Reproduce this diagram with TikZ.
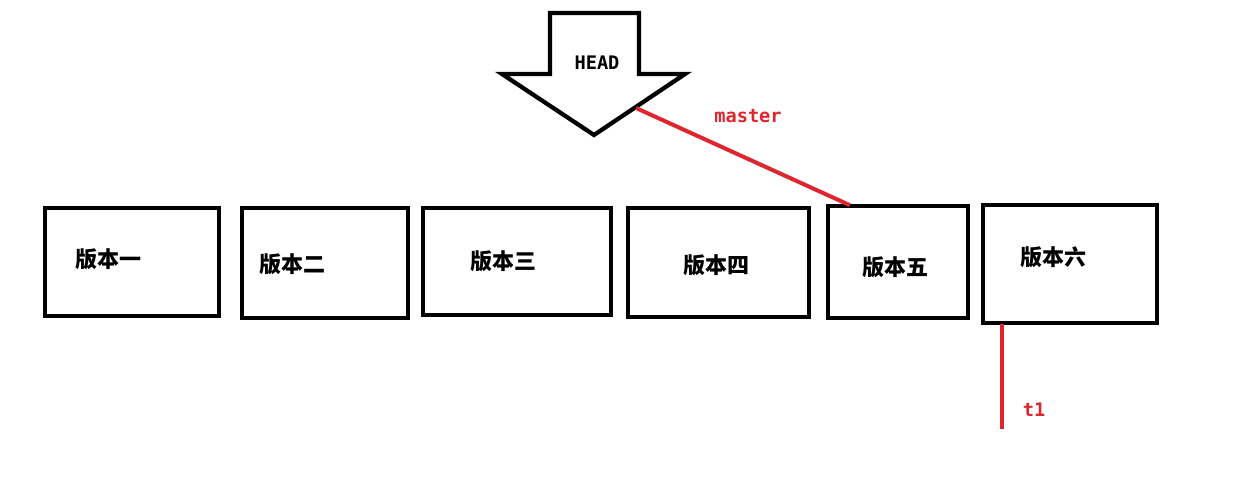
\documentclass[tikz,border=0pt]{standalone}
\usepackage{fontspec}
\newfontfamily\cjk{Noto Sans CJK SC}
\newfontfamily\monofont{DejaVu Sans Mono}
\definecolor{branchred}{RGB}{222,38,48}
\tikzset{
  verbox/.style n args={2}{draw, line width=3.2pt, minimum width=#1*0.75pt, minimum height=#2*0.75pt, inner sep=0pt},
  verlabel/.style={font=\cjk\bfseries\fontsize{16.5}{18}\selectfont},
  reflabel/.style={font=\monofont\bfseries\fontsize{14}{16}\selectfont},
  refline/.style={draw=branchred, line width=3pt}
}
\begin{document}
\begin{tikzpicture}[x=0.75pt, y=-0.75pt]
        \useasboundingbox (0,0) rectangle (1248,478);

        \draw[line width=3.2pt, line join=miter] (550,13) -- (639,13) -- (639,74) -- (685,74) -- (594,135) -- (502,74) -- (550,74) -- cycle;
        \node[reflabel] (head) at (597,63) {HEAD};
        \coordinate (headedge) at (636,108);

        \node[verbox={174}{108}] (v1) at (132,262) {};
        \node[verbox={166}{110}] (v2) at (325,263) {};
        \node[verbox={188}{107}] (v3) at (517,261.5) {};
        \node[verbox={181}{109}] (v4) at (718.5,262.5) {};
        \node[verbox={140}{112}] (v5) at (898,262) {};
        \node[verbox={174}{118}] (v6) at (1070,264) {};

        \node[verlabel] (l1) at (108,259) {版本一};
        \node[verlabel] (l2) at (292,264) {版本二};
        \node[verlabel] (l3) at (503,261) {版本三};
        \node[verlabel] (l4) at (716,265) {版本四};
        \node[verlabel] (l5) at (895,267) {版本五};
        \node[verlabel] (l6) at (1053,257) {版本六};

        \coordinate (masterend) at ([xshift=18pt, yshift=-1pt]v5.north west);
        \coordinate (t1start) at ([xshift=15.5pt, yshift=1pt]v6.south west);
        \coordinate (t1end) at ([yshift=-79pt]t1start);

        \draw[refline] (headedge) -- (masterend);
        \draw[refline] (t1start) -- (t1end);

        \node[reflabel, text=branchred] (master) at (748,116) {master};
        \node[reflabel, text=branchred] (t1) at (1034,410) {t1};
    \end{tikzpicture}
\end{document}
